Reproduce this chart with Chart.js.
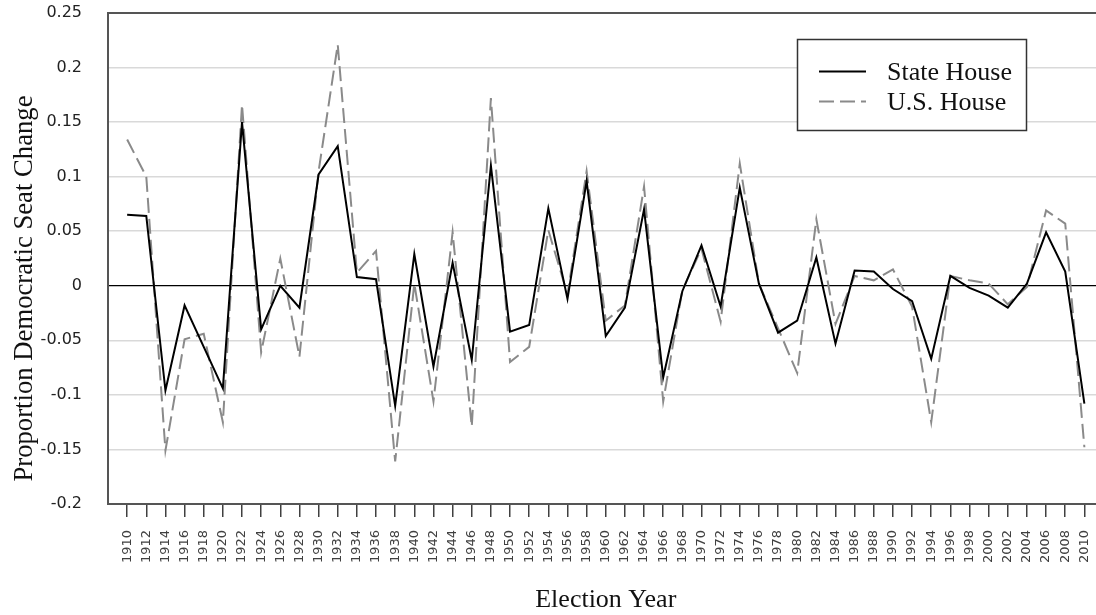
<!DOCTYPE html>
<html>
<head>
<meta charset="utf-8">
<script src="https://cdn.jsdelivr.net/npm/chart.js@4"></script>
<style>
  html, body { margin: 0; padding: 0; overflow: hidden; background: #fff; }
  #wrap { width: 1113px; height: 615px; position: relative; }
</style>
</head>
<body>
<div id="wrap"><canvas id="c"></canvas></div>
<script>
const years = [1910,1912,1914,1916,1918,1920,1922,1924,1926,1928,1930,1932,1934,1936,1938,1940,1942,1944,1946,1948,1950,1952,1954,1956,1958,1960,1962,1964,1966,1968,1970,1972,1974,1976,1978,1980,1982,1984,1986,1988,1990,1992,1994,1996,1998,2000,2002,2004,2006,2008,2010];

const stateHouse = [0.065,0.064,-0.096,-0.018,-0.056,-0.094,0.150,-0.040,0.000,-0.020,0.102,0.128,0.008,0.006,-0.110,0.029,-0.074,0.021,-0.068,0.110,-0.042,-0.036,0.071,-0.012,0.096,-0.046,-0.020,0.070,-0.084,-0.005,0.037,-0.019,0.090,0.002,-0.043,-0.032,0.026,-0.053,0.014,0.013,-0.003,-0.014,-0.067,0.009,-0.002,-0.009,-0.020,0.002,0.049,0.013,-0.108];

const usHouse = [0.134,0.100,-0.151,-0.049,-0.044,-0.125,0.166,-0.061,0.025,-0.065,0.105,0.221,0.012,0.032,-0.161,0.002,-0.106,0.049,-0.129,0.172,-0.070,-0.056,0.051,-0.008,0.105,-0.032,-0.018,0.091,-0.106,-0.004,0.034,-0.033,0.112,0.002,-0.039,-0.080,0.061,-0.035,0.009,0.005,0.015,-0.019,-0.125,0.009,0.005,0.002,-0.017,-0.001,0.069,0.057,-0.148];

const yTicks = [-0.2,-0.15,-0.1,-0.05,0,0.05,0.1,0.15,0.2,0.25];
const yTickLabels = ['-0.2','-0.15','-0.1','-0.05','0','0.05','0.1','0.15','0.2','0.25'];
const xTickLabels = years.map(String);

const seriesNames = ['State House', 'U.S. House'];
const axisTitles = { x: 'Election Year', y: 'Proportion Democratic Seat Change' };

const legendPlugin = {
  id: 'boxLegend',
  afterDraw(chart) {
    const ctx = chart.ctx;
    const bx = 797.5, by = 39.5, bw = 229, bh = 91;
    ctx.save();
    ctx.fillStyle = '#fff';
    ctx.fillRect(bx, by, bw, bh);
    ctx.strokeStyle = '#333';
    ctx.lineWidth = 1.5;
    ctx.strokeRect(bx, by, bw, bh);
    const rows = [71.5, 101.5];
    const baselines = [80, 110];
    chart.data.datasets.forEach((ds, i) => {
      ctx.beginPath();
      ctx.strokeStyle = ds.borderColor;
      ctx.lineWidth = ds.borderWidth;
      ctx.setLineDash(ds.borderDash || []);
      ctx.moveTo(819, rows[i]);
      ctx.lineTo(866, rows[i]);
      ctx.stroke();
      ctx.setLineDash([]);
      ctx.fillStyle = '#111';
      ctx.font = '26px "Liberation Serif"';
      ctx.textBaseline = 'alphabetic';
      ctx.textAlign = 'left';
      ctx.fillText(ds.label, 887, baselines[i]);
    });
    ctx.restore();
  }
};

const yTitlePlugin = {
  id: 'yTitle',
  afterDraw(chart) {
    const ctx = chart.ctx;
    ctx.save();
    ctx.translate(25, 288.5);
    ctx.rotate(-Math.PI / 2);
    ctx.fillStyle = '#111';
    ctx.font = '26.7px "Liberation Serif"';
    ctx.textAlign = 'center';
    ctx.textBaseline = 'middle';
    ctx.fillText(axisTitles.y, 0, 0);
    ctx.restore();
  }
};

new Chart(document.getElementById('c'), {
  type: 'line',
  data: {
    datasets: [
      {
        label: seriesNames[0],
        data: years.map((y, i) => ({ x: y, y: stateHouse[i] })),
        borderColor: '#000',
        borderWidth: 2,
        pointRadius: 0,
        tension: 0,
        fill: false
      },
      {
        label: seriesNames[1],
        data: years.map((y, i) => ({ x: y, y: usHouse[i] })),
        borderColor: '#8a8a8a',
        borderWidth: 2,
        borderDash: [15, 6],
        pointRadius: 0,
        tension: 0,
        fill: false
      }
    ]
  },
  options: {
    responsive: true,
    maintainAspectRatio: false,
    animation: false,
    layout: { padding: { top: 13, right: 1, bottom: 0, left: 0 } },
    plugins: {
      legend: { display: false },
      tooltip: { enabled: false }
    },
    scales: {
      x: {
        type: 'linear',
        min: 1908,
        max: 2012,
        afterBuildTicks: (scale) => { scale.ticks = years.map(v => ({ value: v })); },
        afterFit: (scale) => { scale.height = 111; },
        ticks: {
          autoSkip: false,
          minRotation: 90,
          maxRotation: 90,
          padding: 13,
          color: '#404040',
          font: { family: 'DejaVu Sans', size: 13 },
          callback: (v) => xTickLabels[years.indexOf(v)]
        },
        grid: {
          drawOnChartArea: false,
          drawTicks: true,
          tickLength: 13,
          color: '#404040',
          lineWidth: 1.5
        },
        border: { display: true, color: '#555', width: 2 },
        title: {
          display: true,
          text: axisTitles.x,
          color: '#111',
          font: { family: 'Liberation Serif', size: 26, lineHeight: 1 },
          padding: { top: 0, bottom: 2 }
        }
      },
      y: {
        type: 'linear',
        min: -0.2,
        max: 0.25,
        afterBuildTicks: (scale) => { scale.ticks = yTicks.map(v => ({ value: v })); },
        afterFit: (scale) => { scale.width = 108; },
        ticks: {
          padding: 0,
          color: '#222',
          font: { family: 'DejaVu Sans', size: 16 },
          callback: (v) => yTickLabels[yTicks.indexOf(v)]
        },
        grid: {
          drawTicks: true,
          tickLength: 26,
          tickColor: 'rgba(0,0,0,0)',
          color: (c) => {
            const v = c.tick && c.tick.value;
            if (v === 0) return '#000';
            if (v === 0.25) return '#555';
            if (v === -0.2) return 'rgba(0,0,0,0)';
            return '#d9d9d9';
          },
          lineWidth: (c) => {
            const v = c.tick && c.tick.value;
            if (v === 0) return 1.2;
            if (v === 0.25) return 2;
            return 1.5;
          }
        },
        border: { display: true, color: '#555', width: 2 },
        title: { display: false, text: axisTitles.y }
      }
    }
  },
  plugins: [legendPlugin, yTitlePlugin]
});
</script>
</body>
</html>
